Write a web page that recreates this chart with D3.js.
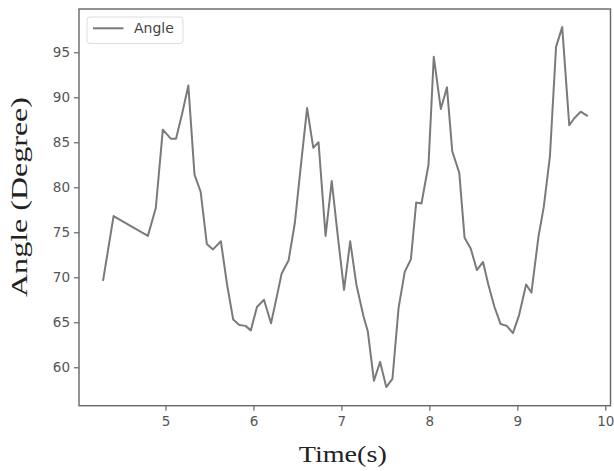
<!DOCTYPE html>
<html>
<head>
<meta charset="utf-8">
<script src="https://cdn.jsdelivr.net/npm/d3@7"></script>
<style>
  body { margin: 0; background: #fff; }
  .tick text { font-family: 'DejaVu Sans', sans-serif; font-size: 13.5px; fill: #555; }
  .axis-label { font-family: 'Liberation Serif', serif; font-size: 24px; fill: #222; }
</style>
</head>
<body>
<svg width="614" height="471"></svg>
<script>
// time (s) and angle (degree)
const times = [4.29, 4.41, 4.80, 4.89, 4.97, 5.06, 5.12, 5.19, 5.26, 5.33, 5.40, 5.47, 5.54, 5.63,
  5.70, 5.77, 5.84, 5.91, 5.97, 6.04, 6.12, 6.20, 6.26, 6.32, 6.40, 6.47, 6.54, 6.61, 6.68, 6.74,
  6.82, 6.89, 6.96, 7.03, 7.10, 7.17, 7.25, 7.30, 7.37, 7.44, 7.51, 7.58, 7.65, 7.72, 7.79, 7.85,
  7.91, 7.99, 8.05, 8.13, 8.20, 8.26, 8.34, 8.40, 8.47, 8.54, 8.61, 8.67, 8.74, 8.81, 8.88, 8.95,
  9.02, 9.10, 9.16, 9.24, 9.30, 9.37, 9.44, 9.51, 9.59, 9.65, 9.72, 9.80];
const angles = [69.6, 76.8, 74.6, 77.7, 86.4, 85.4, 85.4, 88.2, 91.3, 81.4, 79.5, 73.7, 73.1, 74.0,
  69.2, 65.3, 64.7, 64.6, 64.1, 66.7, 67.5, 64.9, 67.6, 70.4, 71.9, 76.0, 82.5, 88.8, 84.4, 85.0,
  74.6, 80.7, 74.5, 68.6, 74.0, 69.2, 65.7, 64.0, 58.5, 60.6, 57.8, 58.7, 66.6, 70.6, 72.0, 78.3,
  78.2, 82.5, 94.5, 88.7, 91.1, 84.0, 81.6, 74.4, 73.2, 70.8, 71.7, 69.2, 66.7, 64.8, 64.6, 63.8,
  65.8, 69.2, 68.3, 74.5, 77.8, 83.4, 95.6, 97.8, 86.9, 87.7, 88.4, 87.9];
const xTicks = [5, 6, 7, 8, 9, 10];
const yTicks = [60, 65, 70, 75, 80, 85, 90, 95];
const seriesName = 'Angle';

const data = times.map((t, i) => ({ t: t, a: angles[i] }));

const svg = d3.select('svg');
const width = +svg.attr('width');
const height = +svg.attr('height');
const margin = { top: 9, right: 3.5, bottom: 65.3, left: 79 };
const innerWidth = width - margin.left - margin.right;
const innerHeight = height - margin.top - margin.bottom;

const xScale = d3.scaleLinear()
  .domain([4.017, 10.059])
  .range([0, innerWidth]);

const yScale = d3.scaleLinear()
  .domain([55.73, 99.81])
  .range([innerHeight, 0]);

const g = svg.append('g')
  .attr('transform', `translate(${margin.left},${margin.top})`);

// axes, matplotlib look: outward ticks, gray spines
const xAxisG = g.append('g')
  .attr('transform', `translate(0,${innerHeight})`)
  .call(d3.axisBottom(xScale).tickValues(xTicks).tickFormat(d3.format('d'))
    .tickSize(5).tickPadding(6).tickSizeOuter(0));
const yAxisG = g.append('g')
  .call(d3.axisLeft(yScale).tickValues(yTicks).tickFormat(d3.format('d'))
    .tickSize(5).tickPadding(4).tickSizeOuter(0));

[xAxisG, yAxisG].forEach(a => {
  a.select('.domain').remove();
  a.selectAll('.tick line').attr('stroke', '#666').attr('stroke-width', 1.2);
});

// frame
g.append('rect')
  .attr('width', innerWidth)
  .attr('height', innerHeight)
  .attr('fill', 'none')
  .attr('stroke', '#666')
  .attr('stroke-width', 1.4);

const line = d3.line()
  .x(d => xScale(d.t))
  .y(d => yScale(d.a));

g.append('path')
  .datum(data)
  .attr('d', line)
  .attr('fill', 'none')
  .attr('stroke', '#7a7a7a')
  .attr('stroke-width', 2)
  .attr('stroke-linejoin', 'round');

// legend
const legend = g.append('g').attr('transform', 'translate(8,8)');
legend.append('rect')
  .attr('width', 96)
  .attr('height', 26.5)
  .attr('rx', 3)
  .attr('fill', '#fff')
  .attr('stroke', '#ddd');
legend.append('line')
  .attr('x1', 6).attr('x2', 36.5)
  .attr('y1', 11.3).attr('y2', 11.3)
  .attr('stroke', '#7a7a7a')
  .attr('stroke-width', 2);
legend.append('text')
  .attr('x', 47)
  .attr('y', 16.3)
  .attr('font-family', 'DejaVu Sans, sans-serif')
  .attr('font-size', 14)
  .attr('fill', '#444')
  .text(seriesName);

// axis titles (the original uses a wide LaTeX serif, so stretch a bit)
svg.append('text')
  .attr('class', 'axis-label')
  .attr('x', margin.left + innerWidth / 2 - 2)
  .attr('y', 462)
  .attr('text-anchor', 'middle')
  .attr('textLength', 88)
  .attr('lengthAdjust', 'spacingAndGlyphs')
  .text('Time(s)');

svg.append('text')
  .attr('class', 'axis-label')
  .attr('transform', `translate(27,197) rotate(-90)`)
  .attr('text-anchor', 'middle')
  .attr('textLength', 200)
  .attr('lengthAdjust', 'spacingAndGlyphs')
  .text('Angle (Degree)');
</script>
</body>
</html>
